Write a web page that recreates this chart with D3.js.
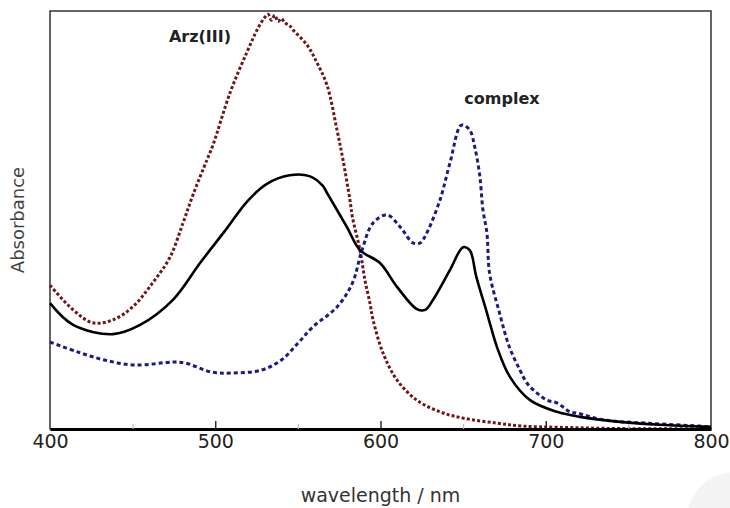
<!DOCTYPE html>
<html><head><meta charset="utf-8">
<script src="https://cdn.jsdelivr.net/npm/d3@7"></script>
<style>body{margin:0;background:#fff;} svg{display:block;}</style>
</head><body>
<script>
// Data (wavelength nm, relative absorbance)
const xTicks = [400, 500, 600, 700, 800];
const xMinorTicks = [450, 550, 650, 750];
const arzWl  = [400,414,426,438,450,462,472.6,480.5,486.5,495,498.6,509,519,526,530,532,534,536,538,540,542,545,547,555.5,561.6,567.6,573.7,577.3,581.5,583,587.6,590.6,593.6,595.5,601.5,610,622,636,650,670.5,686,708.6,745,800];
const arzAbs = [0.344,0.285,0.254,0.261,0.292,0.349,0.411,0.493,0.560,0.644,0.679,0.805,0.900,0.960,0.985,0.992,0.978,0.990,0.975,0.982,0.972,0.965,0.955,0.919,0.876,0.823,0.715,0.644,0.548,0.507,0.428,0.356,0.301,0.261,0.182,0.117,0.069,0.041,0.026,0.014,0.007,0.004,0.001,0.001];
const blkWl  = [400,414,438,454.5,474.4,490.8,507,519,531,545,557,565,567.6,579.7,587.6,599.7,610,622,627,631.8,642,650,654,658,664.4,670.5,678.4,690.5,706.8,720.7,745,769,800];
const blkAbs = [0.301,0.249,0.227,0.249,0.309,0.397,0.480,0.543,0.586,0.607,0.605,0.582,0.565,0.483,0.428,0.397,0.340,0.287,0.285,0.309,0.380,0.435,0.428,0.364,0.278,0.196,0.124,0.069,0.041,0.029,0.017,0.010,0.005];
const cpxWl  = [400,417,433,451.4,474,481.7,498,510,528,540,550,559,573.7,583,588.8,595.5,604,612,619.7,624,628,636,642,649,654,657,660,662,664.4,666,672,678,684.4,688.6,694.7,700.8,707,714.7,719,734.6,761,793,800];
const cpxAbs = [0.208,0.184,0.165,0.153,0.160,0.158,0.136,0.134,0.141,0.165,0.205,0.244,0.292,0.349,0.428,0.493,0.512,0.483,0.445,0.445,0.469,0.548,0.636,0.727,0.715,0.675,0.608,0.524,0.469,0.373,0.278,0.196,0.141,0.110,0.086,0.069,0.062,0.041,0.038,0.022,0.014,0.007,0.005];
const seriesNames = ["Arz(III)", "complex"];

const W = 730, H = 508;
const m = {left: 50, right: 19, top: 11, bottom: 79};
const svg = d3.select("body").append("svg").attr("width", W).attr("height", H);

const x = d3.scaleLinear().domain([400, 800]).range([m.left, W - m.right]);
const y = d3.scaleLinear().domain([0, 1]).range([H - m.bottom, m.top]);

// faint decorative circle in the corner
svg.append("circle").attr("cx", 735).attr("cy", 520).attr("r", 48).attr("fill", "#f4f4f4");

// frame
svg.append("rect").attr("x", m.left).attr("y", m.top)
  .attr("width", x(800) - x(400)).attr("height", y(0) - y(1))
  .attr("fill", "none").attr("stroke", "#333").attr("stroke-width", 1.5);

const line = d3.line().x(d => x(d[0])).y(d => y(d[1])).curve(d3.curveCatmullRom.alpha(0.5));
const zip = (a, b) => a.map((v, i) => [v, b[i]]);

svg.append("path").datum(zip(arzWl, arzAbs)).attr("d", line)
  .attr("fill", "none").attr("stroke", "#6e1618").attr("stroke-width", 3)
  .attr("stroke-dasharray", "3,2.2");
svg.append("path").datum(zip(cpxWl, cpxAbs)).attr("d", line)
  .attr("fill", "none").attr("stroke", "#1c1a86").attr("stroke-width", 3)
  .attr("stroke-dasharray", "4,3");
svg.append("path").datum(zip(blkWl, blkAbs)).attr("d", line)
  .attr("fill", "none").attr("stroke", "#000").attr("stroke-width", 2.6);

// x axis
const ax = svg.append("g").attr("transform", `translate(0,${y(0)})`)
  .call(d3.axisBottom(x).tickValues(xTicks).tickSize(0).tickPadding(6).tickFormat(d3.format("d")));
ax.select(".domain").attr("stroke", "#000").attr("stroke-width", 3);
ax.selectAll("text").attr("font-family", "DejaVu Sans, sans-serif").attr("font-size", 19).attr("fill", "#222");
svg.append("g").attr("transform", `translate(0,${y(0)})`)
  .call(d3.axisTop(x).tickValues(xTicks.slice(1, -1)).tickSize(8).tickFormat(""))
  .call(g => g.select(".domain").remove())
  .selectAll("line").attr("stroke", "#222").attr("stroke-width", 1.4);
svg.append("g").attr("transform", `translate(0,${y(0)})`)
  .call(d3.axisTop(x).tickValues(xMinorTicks).tickSize(5).tickFormat(""))
  .call(g => g.select(".domain").remove())
  .selectAll("line").attr("stroke", "#bbb").attr("stroke-width", 1.2);

svg.append("text").attr("x", (x(400) + x(800)) / 2).attr("y", 502)
  .attr("text-anchor", "middle").attr("font-family", "DejaVu Sans, sans-serif")
  .attr("font-size", 19).attr("fill", "#333").text("wavelength / nm");
svg.append("text").attr("transform", `translate(24,${(y(0) + y(1)) / 2}) rotate(-90)`)
  .attr("text-anchor", "middle").attr("font-family", "DejaVu Sans, sans-serif")
  .attr("font-size", 18).attr("fill", "#444").text("Absorbance");

// series labels
svg.append("text").attr("x", 200).attr("y", 42).attr("text-anchor", "middle")
  .attr("font-family", "DejaVu Sans, sans-serif").attr("font-weight", "bold")
  .attr("font-size", 16).attr("fill", "#222").text(seriesNames[0]);
svg.append("text").attr("x", 502).attr("y", 104).attr("text-anchor", "middle")
  .attr("font-family", "DejaVu Sans, sans-serif").attr("font-weight", "bold")
  .attr("font-size", 16).attr("fill", "#222").text(seriesNames[1]);
</script>
</body></html>
